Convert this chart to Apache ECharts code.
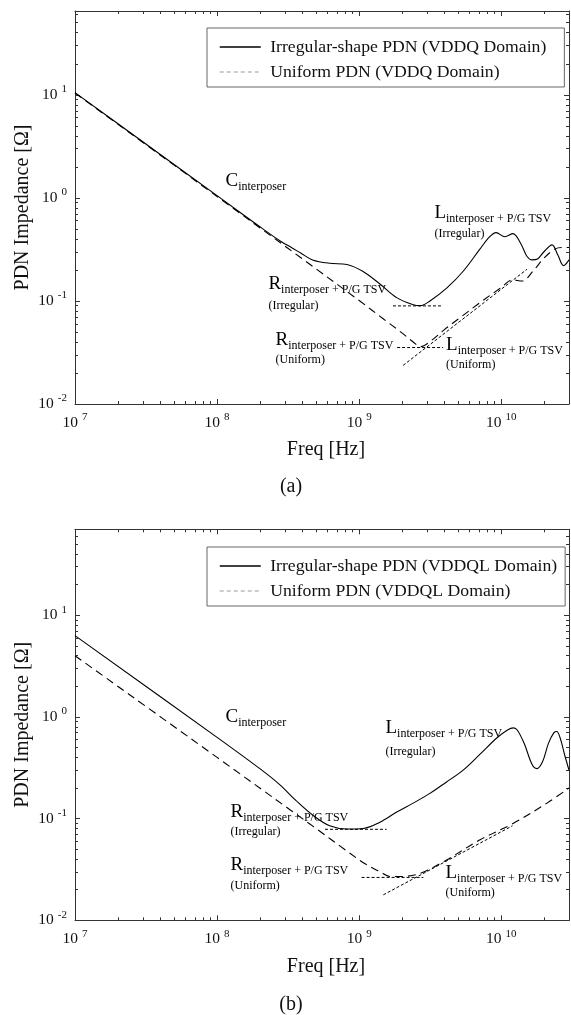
<!DOCTYPE html>
<html><head><meta charset="utf-8">
<script src="https://cdn.jsdelivr.net/npm/echarts@6.0.0/dist/echarts.min.js"></script>
<style>html,body{margin:0;padding:0;background:#fff}#c{width:571px;height:1015px}</style>
</head><body><div id="c"></div>
<script>
// ---------------- data ----------------
const xMajor = [1e7, 1e8, 1e9, 1e10];
const yMajor = [0.01, 0.1, 1, 10];
const minorMultipliers = [2, 3, 4, 5, 6, 7, 8, 9];

const legendA = ['Irregular-shape PDN (VDDQ Domain)', 'Uniform PDN (VDDQ Domain)'];
const legendB = ['Irregular-shape PDN (VDDQL Domain)', 'Uniform PDN (VDDQL Domain)'];

// (a) VDDQ domain
const freqA_irr = [1e7, 3e7, 1e8, 2e8, 2.8e8, 3.4e8, 3.9e8, 4.7e8, 6.2e8, 8.2e8, 1.06e9, 1.4e9, 1.85e9, 2.4e9, 2.7e9, 3.15e9, 4.15e9, 5.4e9, 7.1e9, 8.3e9, 9.2e9, 1.06e10, 1.21e10, 1.38e10, 1.52e10, 1.65e10, 1.8e10, 2.0e10, 2.28e10, 2.5e10, 2.75e10, 3e10];
const zA_irr    = [10.5, 3.5, 1.05, 0.525, 0.38, 0.325, 0.29, 0.25, 0.232, 0.226, 0.194, 0.146, 0.107, 0.092, 0.09, 0.1, 0.134, 0.194, 0.32, 0.42, 0.46, 0.42, 0.45, 0.355, 0.27, 0.25, 0.255, 0.3, 0.35, 0.28, 0.22, 0.25];
const freqA_uni = [1e7, 1e8, 1e9, 1.5e9, 2e9, 2.4e9, 2.7e9, 3.2e9, 4e9, 5e9, 7e9, 1e10, 1.2e10, 1.4e10, 1.7e10, 2e10, 2.4e10, 2.7e10, 3e10];
const zA_uni    = [10.4, 1.03, 0.101, 0.066, 0.049, 0.04, 0.036, 0.041, 0.053, 0.067, 0.095, 0.135, 0.16, 0.156, 0.2, 0.26, 0.32, 0.33, 0.33];
const refA_Rirr = [[1.73e9, 0.0895], [3.77e9, 0.0895]];
const refA_Runi = [[1.85e9, 0.0353], [3.9e9, 0.0353]];
const refA_Luni = [[2.04e9, 0.0237], [1.52e10, 0.203]];

// (b) VDDQL domain
const freqB_irr = [1e7, 1e8, 2e8, 2.77e8, 3.6e8, 4.8e8, 6.2e8, 8.2e8, 1.07e9, 1.4e9, 1.84e9, 2.4e9, 3.15e9, 4.1e9, 5.4e9, 7.1e9, 9.3e9, 1.1e10, 1.22e10, 1.3e10, 1.45e10, 1.65e10, 1.78e10, 1.95e10, 2.15e10, 2.35e10, 2.46e10, 2.6e10, 2.8e10, 3e10];
const zB_irr    = [6.3, 0.63, 0.31, 0.215, 0.15, 0.106, 0.085, 0.079, 0.08, 0.092, 0.116, 0.142, 0.177, 0.228, 0.3, 0.43, 0.62, 0.74, 0.78, 0.74, 0.55, 0.34, 0.31, 0.36, 0.55, 0.7, 0.72, 0.62, 0.42, 0.3];
const freqB_uni = [1e7, 1e8, 3.35e8, 4.8e8, 8.2e8, 1.1e9, 1.4e9, 1.65e9, 2e9, 2.7e9, 4.1e9, 7.1e9, 1.22e10, 2.1e10, 3e10];
const zB_uni    = [4.0, 0.4, 0.119, 0.083, 0.048, 0.036, 0.03, 0.027, 0.027, 0.029, 0.039, 0.062, 0.09, 0.142, 0.2];
const refB_Rirr = [[5.75e8, 0.0785], [1.56e9, 0.0785]];
const refB_Runi = [[1.04e9, 0.0264], [2.83e9, 0.0264]];
const refB_Luni = [[1.48e9, 0.0178], [1.2e10, 0.085]];

// annotation anchors (data coordinates) and texts
const notesA = [
  [1.137e8, 1.45, 'C', 'interposer'],
  [3.36e9, 0.72, 'L', 'interposer + P/G TSV'], [3.36e9, 0.446, '', '(Irregular)'],
  [2.28e8, 0.147, 'R', 'interposer + P/G TSV'], [2.28e8, 0.0905, '', '(Irregular)'],
  [2.56e8, 0.0416, 'R', 'interposer + P/G TSV'], [2.56e8, 0.0268, '', '(Uniform)'],
  [4.06e9, 0.0373, 'L', 'interposer + P/G TSV'], [4.06e9, 0.024, '', '(Uniform)']
];
const notesB = [
  [1.137e8, 1.005, 'C', 'interposer'],
  [1.52e9, 0.778, 'L', 'interposer + P/G TSV'], [1.52e9, 0.455, '', '(Irregular)'],
  [1.233e8, 0.117, 'R', 'interposer + P/G TSV'], [1.233e8, 0.0739, '', '(Irregular)'],
  [1.233e8, 0.035, 'R', 'interposer + P/G TSV'], [1.233e8, 0.0219, '', '(Uniform)'],
  [4.02e9, 0.029, 'L', 'interposer + P/G TSV'], [4.02e9, 0.01845, '', '(Uniform)']
];

// ---------------- chart ----------------
const FONT = 'Liberation Serif';
const TXT = '#111';
const AX = '#333';
const X_MIN = 1e7, X_MAX = 3e10;
const Y_MIN = 0.01, Y_MAX_A = 65, Y_MAX_B = 70;

function minorOf(majors, maxV) {
  const out = [];
  majors.forEach(m => minorMultipliers.forEach(k => { const v = +(m * k).toPrecision(6); if (v <= maxV) out.push(v); }));
  return out;
}
const xMinor = minorOf(xMajor, X_MAX);

const tickRich = {
  b: { fontFamily: FONT, fontSize: 15.5, color: TXT },
  s: { fontFamily: FONT, fontSize: 11, color: TXT, padding: [0, 0, 11, 4] }
};
function expFmt(v) { return '{b|10}{s|' + Math.round(Math.log10(v)) + '}'; }

function makeXAxes(gi) {
  const base = { type: 'log', logBase: 10, gridIndex: gi, min: X_MIN, max: X_MAX, splitLine: { show: false } };
  return [
    Object.assign({}, base, { position: 'bottom',
      axisLine: { show: true, lineStyle: { color: AX, width: 1 } },
      axisTick: { show: true, inside: true, length: 5, customValues: xMajor, lineStyle: { color: AX } },
      axisLabel: { show: true, customValues: xMajor, margin: 8, formatter: expFmt, rich: tickRich },
      name: 'Freq [Hz]', nameLocation: 'middle', nameGap: 36,
      nameTextStyle: { fontFamily: FONT, fontSize: 20, color: TXT, padding: [0, 0, 0, 8] } }),
    Object.assign({}, base, { position: 'bottom', axisLine: { show: false },
      axisTick: { show: true, inside: true, length: 3, customValues: xMinor, lineStyle: { color: AX } },
      axisLabel: { show: false } }),
    Object.assign({}, base, { position: 'top', axisLine: { show: true, lineStyle: { color: AX, width: 1 } },
      axisTick: { show: true, inside: true, length: 5, customValues: xMajor, lineStyle: { color: AX } },
      axisLabel: { show: false } }),
    Object.assign({}, base, { position: 'top', axisLine: { show: false },
      axisTick: { show: true, inside: true, length: 3, customValues: xMinor, lineStyle: { color: AX } },
      axisLabel: { show: false } })
  ];
}
function makeYAxes(gi, yMax) {
  const yMinor = minorOf(yMajor, yMax);
  const base = { type: 'log', logBase: 10, gridIndex: gi, min: Y_MIN, max: yMax, splitLine: { show: false } };
  return [
    Object.assign({}, base, { position: 'left',
      axisLine: { show: true, lineStyle: { color: AX, width: 1 } },
      axisTick: { show: true, inside: true, length: 5, customValues: yMajor, lineStyle: { color: AX } },
      axisLabel: { show: true, customValues: yMajor, margin: 8, formatter: expFmt, rich: tickRich },
      name: 'PDN Impedance [Ω]', nameLocation: 'middle', nameGap: 42, nameMoveOverlap: false,
      nameTextStyle: { fontFamily: FONT, fontSize: 20, color: TXT } }),
    Object.assign({}, base, { position: 'left', axisLine: { show: false },
      axisTick: { show: true, inside: true, length: 3, customValues: yMinor, lineStyle: { color: AX } },
      axisLabel: { show: false } }),
    Object.assign({}, base, { position: 'right', axisLine: { show: true, lineStyle: { color: AX, width: 1 } },
      axisTick: { show: true, inside: true, length: 5, customValues: yMajor, lineStyle: { color: AX } },
      axisLabel: { show: false } }),
    Object.assign({}, base, { position: 'right', axisLine: { show: false },
      axisTick: { show: true, inside: true, length: 3, customValues: yMinor, lineStyle: { color: AX } },
      axisLabel: { show: false } })
  ];
}

function zip(fs, zs) { return fs.map((f, i) => [f, zs[i]]); }

function curve(name, xi, yi, data, dashed) {
  return { type: 'line', name: name, xAxisIndex: xi, yAxisIndex: yi, data: data,
    showSymbol: false, symbol: 'none', smooth: 0.35, silent: true, z: 3,
    itemStyle: { color: '#000' },
    lineStyle: { color: '#000', width: 1.1, type: dashed ? [8, 5] : 'solid' } };
}
function refLine(xi, yi, data) {
  return { type: 'line', xAxisIndex: xi, yAxisIndex: yi, data: data, showSymbol: false, symbol: 'none',
    silent: true, z: 2, itemStyle: { color: '#000' }, lineStyle: { color: '#000', width: 1, type: [3, 2] } };
}
function noteSeries(xi, yi, notes) {
  return { type: 'scatter', xAxisIndex: xi, yAxisIndex: yi, symbolSize: 1, silent: true, z: 5,
    itemStyle: { color: 'rgba(0,0,0,0)' },
    data: notes.map(n => ({ value: [n[0], n[1]],
      label: { show: true, position: 'right', distance: 0,
        formatter: n[2] ? '{m|' + n[2] + '}{s|' + n[3] + '}' : '{n|' + n[3] + '}' } })),
    label: { show: true, color: '#000', opacity: 1, rich: {
      m: { fontFamily: FONT, fontSize: 19, color: '#000' },
      s: { fontFamily: FONT, fontSize: 12, color: '#000', padding: [12, 0, 0, 0] },
      n: { fontFamily: FONT, fontSize: 12, color: '#000' } } } };
}

function legendFor(names, top, padRight) {
  return { orient: 'vertical', left: 207, top: top, itemWidth: 41, itemHeight: 14, itemGap: 7,
    padding: [10, padRight, 6, 12], borderColor: '#666', borderWidth: 1, backgroundColor: '#fff',
    selectedMode: false,
    formatter: n => ' ' + n,
    textStyle: { fontFamily: FONT, fontSize: 17.7, color: TXT },
    data: [
      { name: names[0], itemStyle: { opacity: 0 }, lineStyle: { color: '#000', width: 1.5, type: 'solid' } },
      { name: names[1], itemStyle: { opacity: 0 }, lineStyle: { color: '#999', width: 1, type: [4, 3] } }
    ] };
}

const option = {
  animation: false,
  backgroundColor: '#fff',
  grid: [
    { left: 75, top: 11, width: 494, height: 393 },
    { left: 75, top: 529.3, width: 494, height: 391 }
  ],
  xAxis: makeXAxes(0).concat(makeXAxes(1)),
  yAxis: makeYAxes(0, Y_MAX_A).concat(makeYAxes(1, Y_MAX_B)),
  legend: [legendFor(legendA, 28, 18), legendFor(legendB, 547, 8)],
  series: [
    curve(legendA[0], 0, 0, zip(freqA_irr, zA_irr), false),
    curve(legendA[1], 0, 0, zip(freqA_uni, zA_uni), true),
    refLine(0, 0, refA_Rirr), refLine(0, 0, refA_Runi), refLine(0, 0, refA_Luni),
    noteSeries(0, 0, notesA),
    curve(legendB[0], 4, 4, zip(freqB_irr, zB_irr), false),
    curve(legendB[1], 4, 4, zip(freqB_uni, zB_uni), true),
    refLine(4, 4, refB_Rirr), refLine(4, 4, refB_Runi), refLine(4, 4, refB_Luni),
    noteSeries(4, 4, notesB)
  ],
  graphic: [
    { type: 'text', x: 291, y: 487, style: { text: '(a)', fontFamily: FONT, fontSize: 20, fill: TXT, align: 'center', verticalAlign: 'middle' } },
    { type: 'text', x: 291, y: 1005, style: { text: '(b)', fontFamily: FONT, fontSize: 20, fill: TXT, align: 'center', verticalAlign: 'middle' } }
  ]
};
const chart = echarts.init(document.getElementById('c'), null, { renderer: 'canvas' });
chart.setOption(option);
</script></body></html>
